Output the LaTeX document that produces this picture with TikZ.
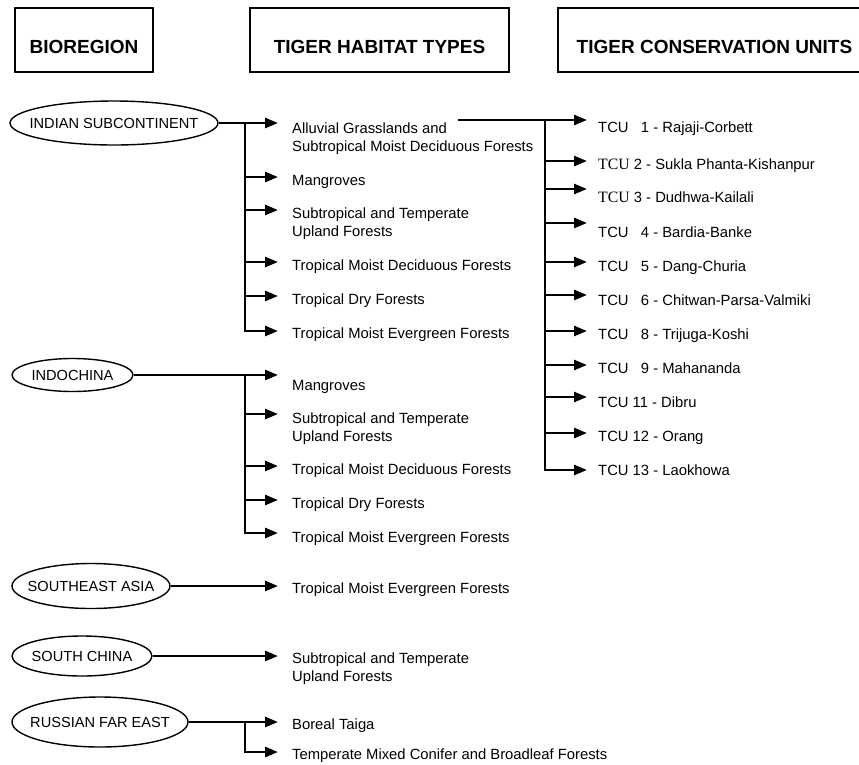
\documentclass[tikz,border=0pt]{standalone}
\usepackage{fontspec}
\setmainfont{Liberation Sans}
\newfontfamily\serifTCU{Liberation Serif}
\usetikzlibrary{arrows.meta,shapes.geometric}
\newcommand{\regname}[1]{\makebox[0pt]{#1}}
\newcommand{\stcu}{{\serifTCU\fontsize{15.8}{18}\selectfont TCU}}
\tikzset{
  headbox/.style={draw,line width=1.8pt,minimum height=64pt,inner sep=0pt,text height=27pt,text depth=0pt,
    font=\fontsize{19}{22}\selectfont\bfseries},
  region/.style={ellipse,draw,line width=1.4pt,inner sep=0pt,font=\fontsize{14.6}{18}\selectfont},
  habitat/.style={anchor=north west,align=left,inner sep=0pt,font=\fontsize{14.8}{18}\selectfont},
  conn/.style={line width=2.6pt},
  arr/.style={conn,-{Triangle[length=13pt,width=10pt]}}
}

\begin{document}
\begin{tikzpicture}[x=1pt,y=-1pt]
\useasboundingbox (0,0) rectangle (859,764);
% column headings
\node[headbox,minimum width=138pt] (hbio) at (84,40) {BIOREGION};
\node[headbox,minimum width=259pt] (hhab) at (379.5,40) {TIGER HABITAT TYPES};
\node[headbox,minimum width=313pt] (htcu) at (714.5,40) {TIGER CONSERVATION UNITS};
% bioregions
\node[region,minimum width=208pt,minimum height=44pt] (ind) at (114,123) {\regname{INDIAN SUBCONTINENT}};
\node[region,minimum width=121pt,minimum height=33pt] (indo) at (72.5,375) {\regname{INDOCHINA}};
\node[region,minimum width=158pt,minimum height=45pt] (sea) at (91,586) {\regname{SOUTHEAST ASIA}};
\node[region,minimum width=140pt,minimum height=40pt] (sch) at (82,656) {\regname{SOUTH CHINA}};
\node[region,minimum width=176pt,minimum height=50pt] (rfe) at (100,722) {\regname{RUSSIAN FAR EAST}};
\coordinate (htr) at (245,0);
\coordinate (ttr) at (545,0);
% habitat types, Indian subcontinent
\foreach \n/\ya/\yt/\txt in {1/123/128/{Alluvial Grasslands and\\Subtropical Moist Deciduous Forests},
    2/177/180/Mangroves, 3/210/213/{Subtropical and Temperate\\Upland Forests},
    4/262/265/Tropical Moist Deciduous Forests, 5/296/299/Tropical Dry Forests,
    6/331/333/Tropical Moist Evergreen Forests}{
  \node[habitat] (ih\n) at (292,\yt-5.3) {\txt};
  \coordinate (ia\n) at (278,\ya);
}
\draw[arr] (ind.east) -- (ia1);
\draw[arr] (ia1 -| htr) -- (ia6 -| htr) -- (ia6);
\foreach \n in {2,...,5} \draw[arr] (ia\n -| htr) -- (ia\n);
% habitat types, Indochina
\foreach \n/\ya/\yt/\txt in {1/375/385/Mangroves, 2/414/418/{Subtropical and Temperate\\Upland Forests},
    3/466/469/Tropical Moist Deciduous Forests, 4/500/503/Tropical Dry Forests,
    5/533/537/Tropical Moist Evergreen Forests}{
  \node[habitat] (ch\n) at (292,\yt-5.3) {\txt};
  \coordinate (ca\n) at (278,\ya);
}
\draw[arr] (indo.east) -- (ca1);
\draw[arr] (ca1 -| htr) -- (ca5 -| htr) -- (ca5);
\foreach \n in {2,...,4} \draw[arr] (ca\n -| htr) -- (ca\n);
% Southeast Asia and South China
\node[habitat] (sh1) at (292,582.7) {Tropical Moist Evergreen Forests};
\coordinate (sa1) at (278,586);
\draw[arr] (sea.east) -- (sa1);
\node[habitat] (nh1) at (292,652.7) {Subtropical and Temperate\\Upland Forests};
\coordinate (na1) at (278,656);
\draw[arr] (sch.east) -- (na1);
% Russian Far East
\node[habitat] (rh1) at (292,719) {Boreal Taiga};
\coordinate (ra1) at (278,722);
\node[habitat] (rh2) at (292,748.5) {Temperate Mixed Conifer and Broadleaf Forests};
\coordinate (ra2) at (278,752);
\draw[arr] (rfe.east) -- (ra1);
\draw[arr] (ra1 -| htr) -- (ra2 -| htr) -- (ra2);
% tiger conservation units
\foreach \n/\ya/\yt/\txt in {1/120/127/{TCU \phantom{1}1 - Rajaji-Corbett},
    2/161/164/{\stcu\ 2 - Sukla Phanta-Kishanpur},
    3/189/197/{\stcu\ 3 - Dudhwa-Kailali},
    4/223/232/{TCU \phantom{1}4 - Bardia-Banke}, 5/262/266/{TCU \phantom{1}5 - Dang-Churia},
    6/295/300/{TCU \phantom{1}6 - Chitwan-Parsa-Valmiki}, 8/331/334/{TCU \phantom{1}8 - Trijuga-Koshi},
    9/365/368/{TCU \phantom{1}9 - Mahananda}, 11/397/402/{TCU 11 - Dibru},
    12/433/436/{TCU 12 - Orang}, 13/470/470/{TCU 13 - Laokhowa}}{
  \node[habitat] (tu\n) at (598,\yt-5.3) {\txt};
  \coordinate (ta\n) at (587,\ya);
}
\coordinate (feed) at (458,120);
\draw[arr] (feed) -- (ta1);
\draw[arr] (ta1 -| ttr) -- (ta13 -| ttr) -- (ta13);
\foreach \n in {2,3,4,5,6,8,9,11,12} \draw[arr] (ta\n -| ttr) -- (ta\n);
\end{tikzpicture}
\end{document}
